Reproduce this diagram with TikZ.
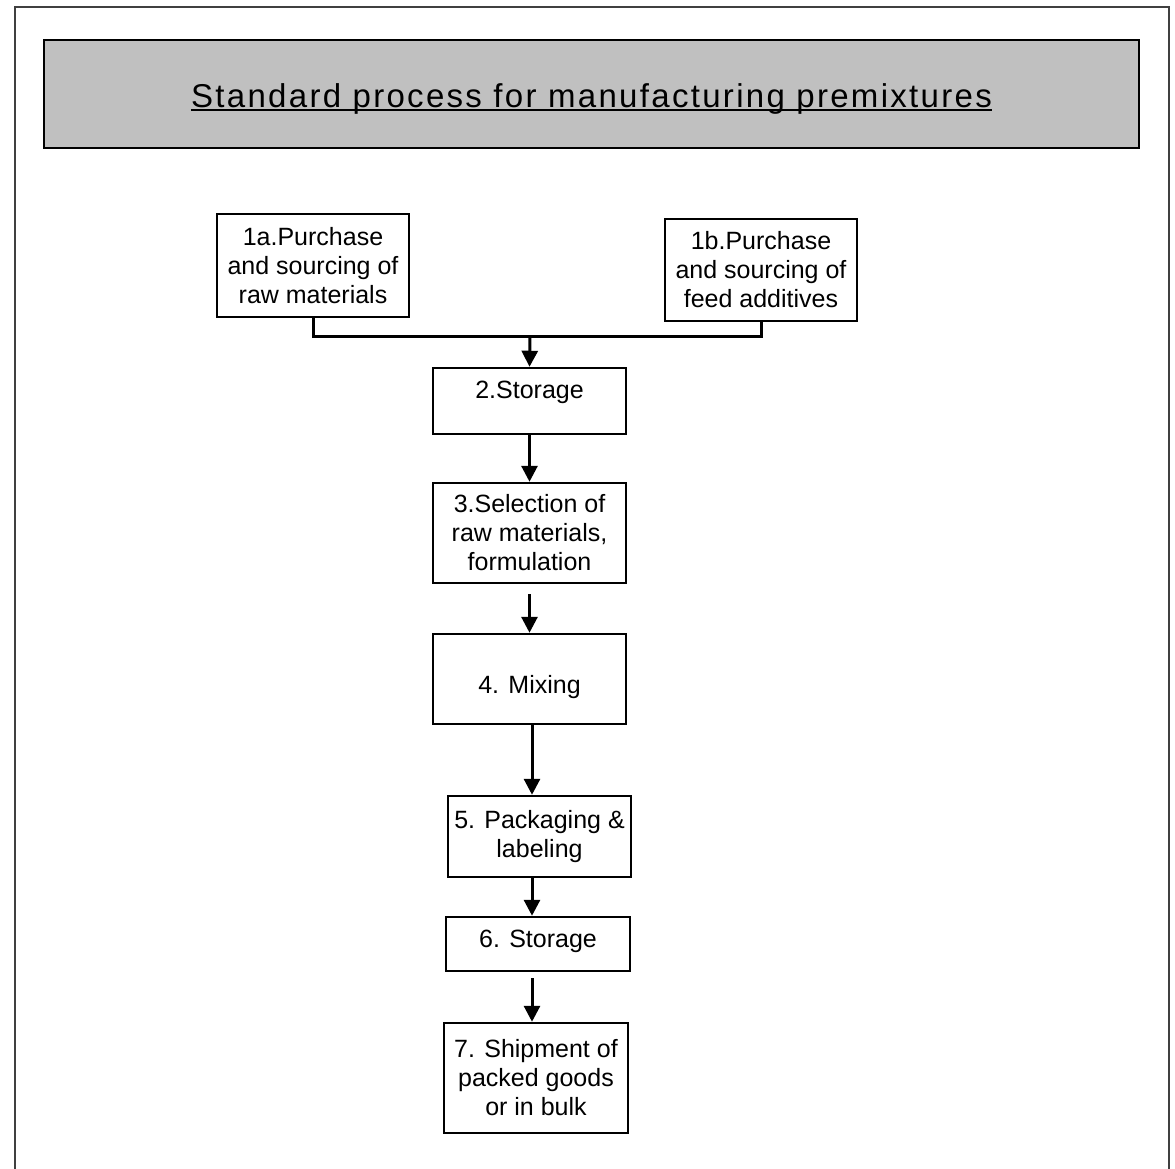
\documentclass[tikz,border=0pt]{standalone}
\usepackage{fontspec}
\setmainfont{Liberation Sans}
\newfontfamily\titlefont[LetterSpace=7]{Liberation Sans}
\usetikzlibrary{calc,arrows.meta}
\definecolor{titlegray}{HTML}{C0C0C0}

\begin{document}
\begin{tikzpicture}[x=1pt,y=-1pt,line join=miter,
  stage/.style={draw,line width=2.5pt,fill=white,inner sep=0pt,align=center,
    font=\fontsize{25}{29}\selectfont},
  link/.style={line width=3pt},
  flow/.style={link,-{Triangle[length=16pt,width=16pt]}}]
  \useasboundingbox (0,0) rectangle (1175,1168);

  % frame, open at the bottom
  \draw[line width=1.8pt,black!75] (15,1175) -- (15,7) -- (1169,7) -- (1169,1175);

  % title bar
  \node[draw,line width=2.5pt,fill=titlegray,minimum width=1095pt,minimum height=108pt] (bar) at (591.5,94) {};
  \node[anchor=base,inner sep=0pt,font=\titlefont\fontsize{33}{38}\selectfont] (title) at (591.5,107) {Standard process for manufacturing premixtures};
  \draw[line width=1.6pt] ([yshift=-3pt]title.base west) -- ([yshift=-3pt]title.base east);

  % stages
  \node[stage,minimum width=192pt,minimum height=103pt] (s1a) at (313,265.5) {1a.Purchase\\and sourcing of\\raw materials};
  \node[stage,minimum width=192pt,minimum height=102pt] (s1b) at (761,270) {1b.Purchase\\and sourcing of\\feed additives};
  \node[stage,minimum width=193pt,text height=30pt,text depth=36pt] (s2) at (529.5,401) {2.Storage};
  \node[stage,minimum width=193pt,minimum height=100pt] (s3) at (529.5,533) {3.Selection of\\raw materials,\\formulation};
  \node[stage,minimum width=193pt,text height=59pt,text depth=31pt] (s4) at (529.5,679) {4. Mixing};
  \node[stage,minimum width=183pt,minimum height=81pt] (s5) at (539.5,836.5) {5. Packaging \&\\labeling};
  \node[stage,minimum width=184pt,text height=30pt,text depth=24pt] (s6) at (538,944) {6. Storage};
  \node[stage,minimum width=184pt,minimum height=110pt] (s7) at (536,1078) {7. Shipment of\\packed goods\\or in bulk};

  % connectors
  \coordinate (join) at (530,336);
  \coordinate (spine) at (532,0);
  \draw[link] (s1a.south) |- (join) -| (s1b.south);
  \draw[flow] (join) -- (s2.north);
  \draw[flow] (s2.south) -- (s3.north);
  \draw[flow,shorten <=10pt] (s3.south) -- (s4.north);
  \draw[flow] (s4.south -| spine) -- (s5.north -| spine);
  \draw[flow] (s5.south -| spine) -- (s6.north -| spine);
  \draw[flow,shorten <=6pt] (s6.south -| spine) -- (s7.north -| spine);
\end{tikzpicture}
\end{document}
